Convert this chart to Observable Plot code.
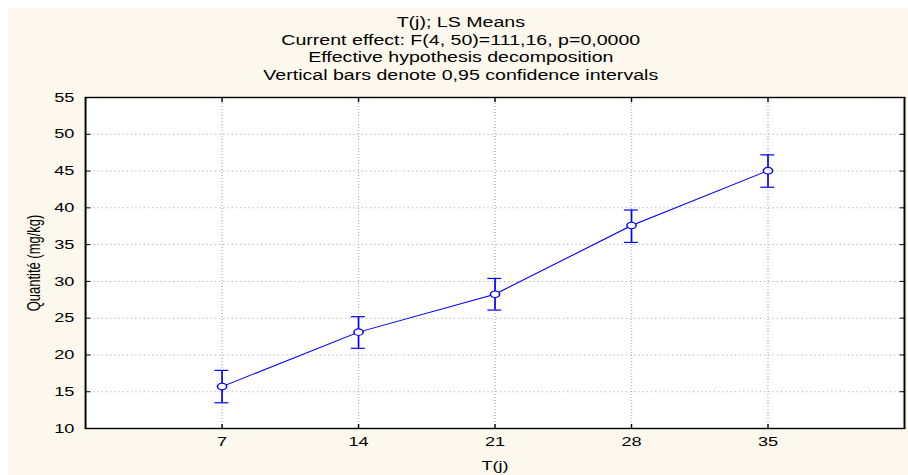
<!DOCTYPE html>
<html><head><meta charset="utf-8">
<script src="https://cdn.jsdelivr.net/npm/d3@7"></script>
<script src="https://cdn.jsdelivr.net/npm/@observablehq/plot@0.6"></script>
<style>
html,body{margin:0;padding:0;background:#fff;width:908px;height:475px;overflow:hidden}
#wrap{position:absolute;left:8px;top:8px;width:644px;height:467px;background:#fdf8ee;transform:scaleX(1.3975);transform-origin:0 0;font-family:"Liberation Sans",Arial,sans-serif;}
#title{height:77px;box-sizing:border-box;padding-top:6px;text-align:center;font-size:14px;line-height:17.7px;color:#000;width:648px}
#chart svg{display:block}
</style></head><body>
<div id="wrap"><div id="title"></div><div id="chart"></div></div>
<script>
const days = [7, 14, 21, 28, 35];
const means = [15.7, 23.1, 28.25, 37.6, 45.05];
const lower = [13.5, 20.9, 26.1, 35.3, 42.8];
const upper = [17.9, 25.2, 30.4, 39.7, 47.2];
const xTicks = [7, 14, 21, 28, 35];
const yTicks = [10, 15, 20, 25, 30, 35, 40, 45, 50, 55];
const titleLines = [
  "T(j); LS Means",
  "Current effect: F(4, 50)=111,16, p=0,0000",
  "Effective hypothesis decomposition",
  "Vertical bars denote 0,95 confidence intervals"
];
const xLabel = "T(j)";
const yLabel = "Quantité (mg/kg)";

const titleEl = document.getElementById("title");
titleLines.forEach(t => { const d = document.createElement("div"); d.textContent = t; titleEl.appendChild(d); });

const data = days.map((d, i) => ({x: d, mean: means[i], lo: lower[i], hi: upper[i]}));
const blue = "#0000ff";
const noText = () => "";

const chart = Plot.plot({
  width: 644,
  height: 390,
  marginTop: 12,
  marginBottom: 47,
  marginLeft: 55,
  marginRight: 3,
  style: {background: "transparent", fontFamily: "'Liberation Sans', Arial, sans-serif", fontSize: "13px", color: "#000"},
  x: {domain: [0, 42]},
  y: {domain: [10, 55]},
  marks: [
    Plot.frame({fill: "white", stroke: null}),
    Plot.gridY(yTicks.slice(1, -1), {stroke: "#b8b8b8", strokeOpacity: 1, strokeDasharray: "1,2"}),
    Plot.gridX(xTicks, {stroke: "#b8b8b8", strokeOpacity: 1, strokeDasharray: "1,2"}),
    Plot.axisY(yTicks, {anchor: "left", tickSize: 0, tickPadding: 8, label: null, fontSize: 13}),
    Plot.axisX(xTicks, {anchor: "bottom", tickSize: 0, tickPadding: 8, label: null, fontSize: 13}),
    Plot.axisY(yTicks, {anchor: "left", tickSize: -4, tickFormat: noText, label: null}),
    Plot.axisY(yTicks, {anchor: "right", tickSize: -4, tickFormat: noText, label: null}),
    Plot.axisX(xTicks, {anchor: "bottom", tickSize: -4, tickFormat: noText, label: null}),
    Plot.axisX(xTicks, {anchor: "top", tickSize: -4, tickFormat: noText, label: null}),
    Plot.frame({stroke: "#000", strokeWidth: 1.4}),
    Plot.ruleX(data, {x: "x", y1: "lo", y2: "hi", stroke: blue, strokeWidth: 1.2}),
    Plot.ruleY(data, {y: "hi", x1: "x", x2: "x", insetLeft: -5, insetRight: -5, stroke: blue, strokeWidth: 1.2}),
    Plot.ruleY(data, {y: "lo", x1: "x", x2: "x", insetLeft: -5, insetRight: -5, stroke: blue, strokeWidth: 1.2}),
    Plot.line(data, {x: "x", y: "mean", stroke: blue, strokeWidth: 1}),
    Plot.dot(data, {x: "x", y: "mean", r: 3.3, fill: "white", stroke: blue, strokeWidth: 1.1}),
    Plot.text([yLabel], {frameAnchor: "left", rotate: -90, dx: -37, textAnchor: "middle", lineAnchor: "middle", fontSize: 13}),
    Plot.text([xLabel], {frameAnchor: "bottom", dy: 37, textAnchor: "middle", lineAnchor: "middle", fontSize: 13})
  ]
});
document.getElementById("chart").appendChild(chart);
</script>
</body></html>
